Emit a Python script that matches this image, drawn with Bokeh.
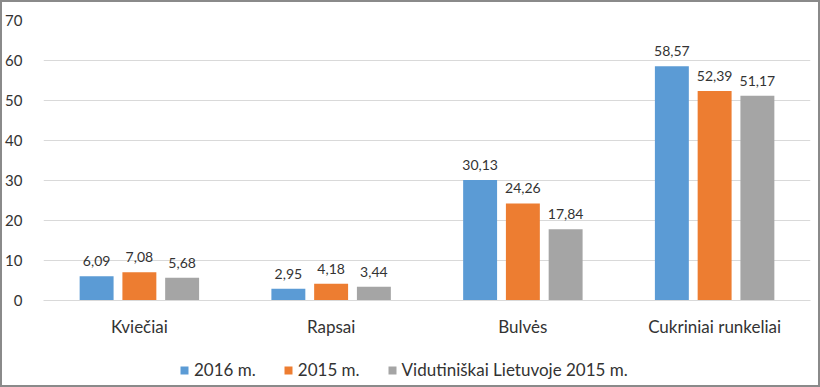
from bokeh.plotting import figure
from bokeh.layouts import column
from bokeh.models import FactorRange, Range1d, ColumnDataSource, Legend, LegendItem, SingleIntervalTicker
from bokeh.transform import dodge
from bokeh.core.properties import value
from bokeh.embed import file_html
from bokeh.resources import INLINE

categories = ["Kviečiai", "Rapsai", "Bulvės", "Cukriniai runkeliai"]
series_names = ["2016 m.", "2015 m.", "Vidutiniškai Lietuvoje 2015 m."]
v2016 = [6.09, 2.95, 30.13, 58.57]
v2015 = [7.08, 4.18, 24.26, 52.39]
vavg = [5.68, 3.44, 17.84, 51.17]
colors = ["#5B9BD5", "#ED7D31", "#A5A5A5"]

FONT = "Lato"
TXT = "#333333"

def fmt(v):
    return f"{v:.2f}".replace(".", ",")

src = ColumnDataSource(dict(
    cat=categories,
    a=v2016, b=v2015, c=vavg,
    la=[fmt(v) for v in v2016], lb=[fmt(v) for v in v2015], lc=[fmt(v) for v in vavg],
))

W = 816
p = figure(x_range=FactorRange(*categories), y_range=Range1d(0, 70),
           width=W, height=343, output_backend="svg", toolbar_location=None,
           min_border_left=38, min_border_right=8, min_border_top=18, min_border_bottom=45)

offs = [-0.223, 0.0, 0.223]
for key, lab, off, col in zip(["a", "b", "c"], ["la", "lb", "lc"], offs, colors):
    p.vbar(x=dodge("cat", off, range=p.x_range), top=key, width=0.177, source=src,
           fill_color=col, line_color=None)
    p.text(x=dodge("cat", off, range=p.x_range), y=key, text=lab, source=src,
           text_align="center", text_baseline="bottom", y_offset=-10,
           text_font=value(FONT), text_font_size="14px", text_color=TXT)

p.outline_line_color = None
p.xgrid.grid_line_color = None
p.ygrid.grid_line_color = "#D9D9D9"
p.ygrid.grid_line_width = 1
p.yaxis.ticker = SingleIntervalTicker(interval=10)
p.yaxis.axis_line_color = None
p.yaxis.major_tick_line_color = None
p.yaxis.minor_tick_line_color = None
p.yaxis.major_tick_out = 0
p.yaxis.major_tick_in = 0
p.yaxis.major_label_standoff = 17
p.yaxis.major_label_text_font = FONT
p.yaxis.major_label_text_font_size = "15px"
p.yaxis.major_label_text_color = TXT

p.xaxis.axis_line_color = "#D9D9D9"
p.xaxis.major_tick_line_color = None
p.xaxis.minor_tick_line_color = None
p.xaxis.major_tick_out = 0
p.xaxis.major_tick_in = 0
p.xaxis.major_label_standoff = 15
p.xaxis.major_label_text_font = FONT
p.xaxis.major_label_text_font_size = "17px"
p.xaxis.major_label_text_color = TXT

# legend strip below the chart: zero-height bars from the same data, so only the legend draws
lg = figure(width=W, height=40, output_backend="svg", toolbar_location=None,
            x_range=FactorRange(*categories), y_range=Range1d(0, 70),
            x_axis_type=None, y_axis_type=None,
            min_border_left=0, min_border_right=0, min_border_top=0, min_border_bottom=0)
lg.outline_line_color = None
lg.xgrid.grid_line_color = None
lg.ygrid.grid_line_color = None
legend_renderers = [lg.vbar(x=dodge("cat", off, range=lg.x_range), top=key, bottom=key, width=0.177,
                            source=src, fill_color=c, line_color=None)
                    for key, off, c in zip(["a", "b", "c"], offs, colors)]

legend = Legend(items=[LegendItem(label=n, renderers=[r]) for n, r in zip(series_names, legend_renderers)],
                orientation="horizontal", location=(136, 5), padding=0, margin=0,
                glyph_width=10, glyph_height=10, label_standoff=5, spacing=27,
                label_text_font=FONT, label_text_font_size="17px", label_text_color=TXT,
                border_line_color=None, background_fill_alpha=0)
lg.add_layout(legend, "center")

layout = column(p, lg, spacing=0,
                styles={"border": "2px solid #8a8a8a"})
open("out.html", "w").write(file_html(layout, INLINE))
